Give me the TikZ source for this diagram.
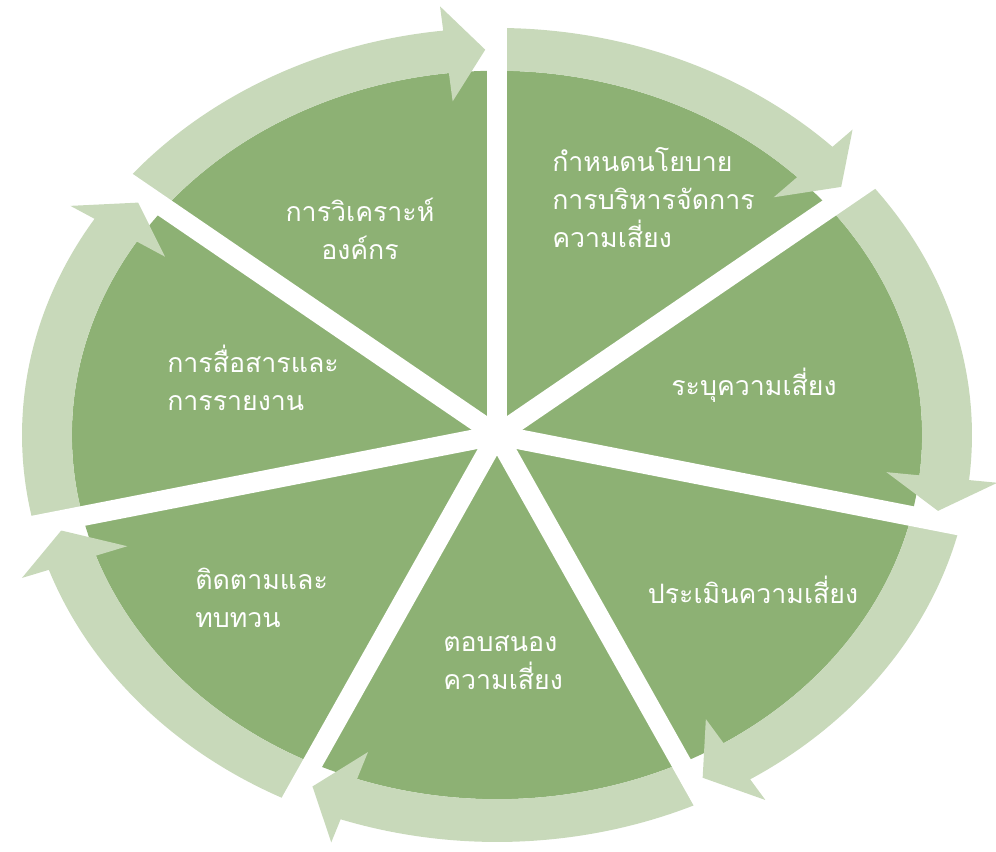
\documentclass[tikz,border=0pt]{standalone}
\usepackage{fontspec}
\newfontfamily\thaifont[Script=Thai]{Loma}
\definecolor{darkleaf}{RGB}{141,177,116}
\definecolor{paleleaf}{RGB}{200,217,186}
\tikzset{
  steplabel/.style={text=white, inner sep=0pt, font=\thaifont\fontsize{19}{27}\selectfont},
  gapline/.style={white, line width=0.5cm},
}
\begin{document}
\begin{tikzpicture}[x=0.025cm, y=0.025cm]
\useasboundingbox (0,0) rectangle (996,852);

\begin{scope}[shift={(497,417)}, xscale=475, yscale=407]
\foreach \s in {0,...,6}
{
\pgfmathsetmacro{\a}{141.43-\s*51.43}
\pgfmathsetmacro{\e}{\a-51.43}
\pgfmathsetmacro{\t}{\e+1.5}
\pgfmathsetmacro{\b}{\e+6.5}
\fill[darkleaf] (0,0) -- (\a:0.895) arc[start angle=\a, end angle=\e, radius=0.895] -- cycle;
\fill[paleleaf] (\a:0.895) -- (\a:1) arc[start angle=\a, end angle=\b, radius=1]
  -- (\b:1.06) -- (\t:0.947) -- (\b:0.825) -- (\b:0.895)
  arc[start angle=\b, end angle=\a, radius=0.895] -- cycle;
}
%% gaps between the sectors
\foreach \g in {90,38.57,-12.86,-64.29,-115.71,-167.14,141.43}
  \draw[gapline] (0,0) -- (\g:1.1);
\end{scope}

\node[steplabel, align=center] (t1) at (360,623) {การวิเคราะห์\\องค์กร};
\node[steplabel, align=left, anchor=west] (t2) at (552,654) {กำหนดนโยบาย\\การบริหารจัดการ\\ความเสี่ยง};
\node[steplabel] (t3) at (754,467) {ระบุความเสี่ยง};
\node[steplabel] (t4) at (753,262) {ประเมินความเสี่ยง};
\node[steplabel, align=left, anchor=west] (t5) at (443,189) {ตอบสนอง\\ความเสี่ยง};
\node[steplabel, align=left, anchor=west] (t6) at (195,254) {ติดตามและ\\ทบทวน};
\node[steplabel, align=left, anchor=west] (t7) at (167,474) {การสื่อสารและ\\การรายงาน};

\end{tikzpicture}
\end{document}
